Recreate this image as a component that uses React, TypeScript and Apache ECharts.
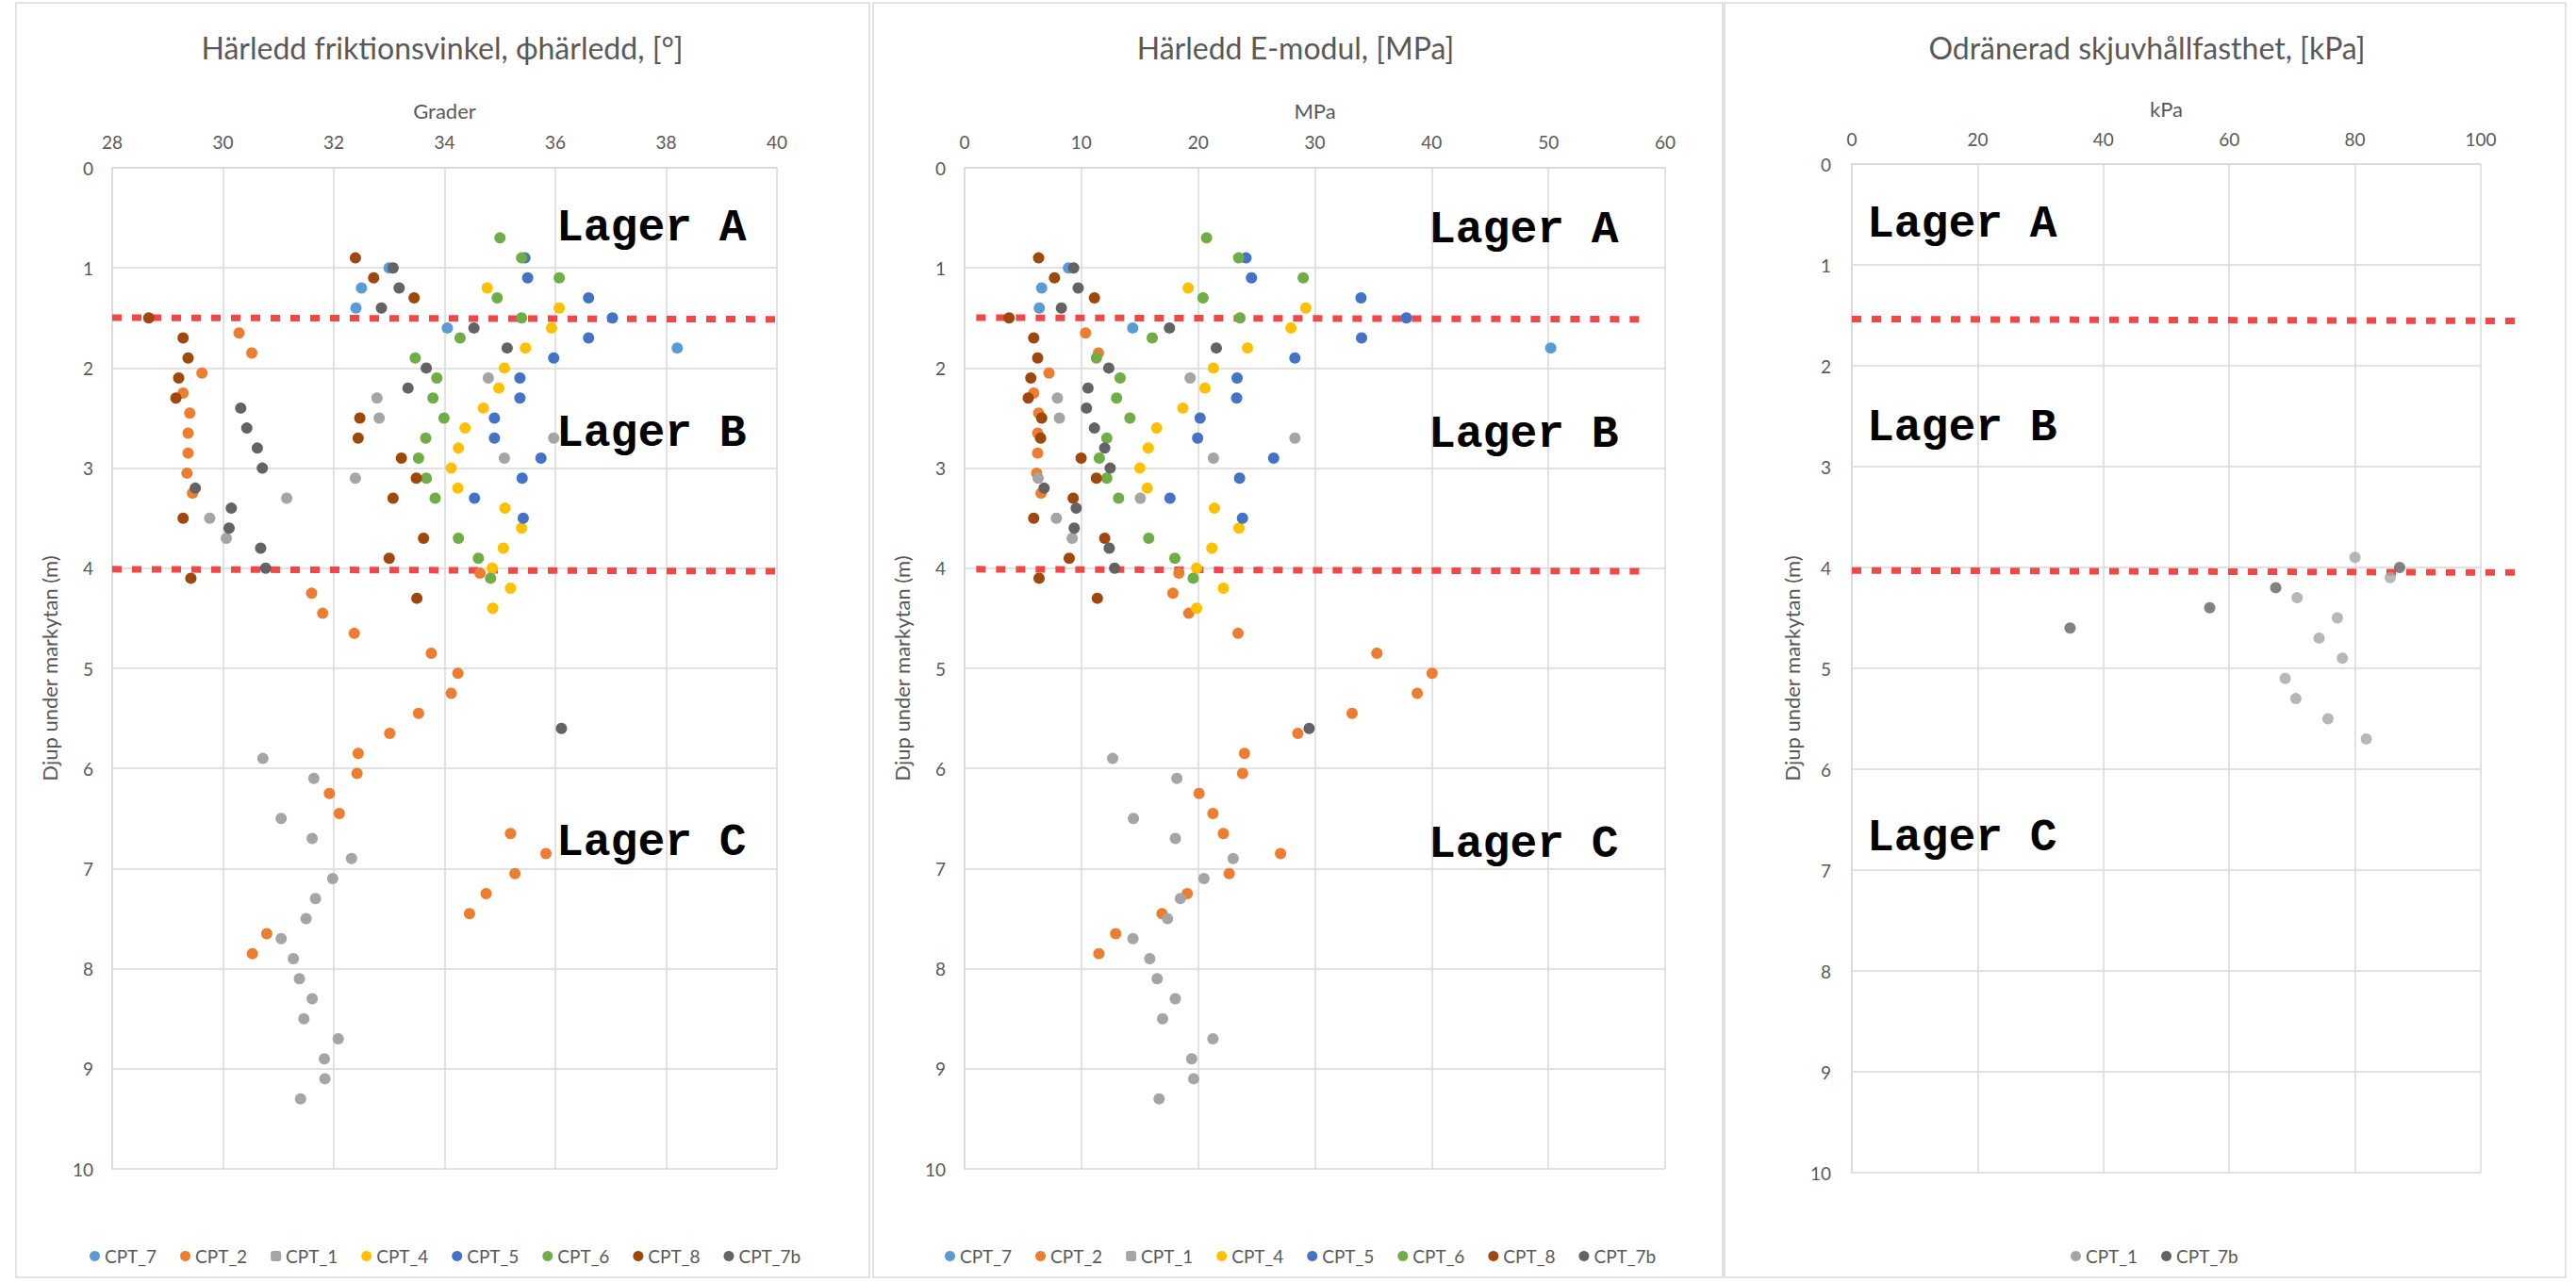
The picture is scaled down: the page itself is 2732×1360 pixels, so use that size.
import React, { useEffect, useRef } from "react";
import * as echarts from "echarts";

const FONT = "Lato, 'Open Sans', sans-serif";
const MONO = "'Liberation Mono', 'DejaVu Sans Mono', monospace";
const TXT = "#595959";
const GRIDC = "#d9d9d9";
const BOUNDARY_COLOR = "#f04848";

// ---------- series meta ----------
const seriesNames = ["CPT_7", "CPT_2", "CPT_1", "CPT_4", "CPT_5", "CPT_6", "CPT_8", "CPT_7b"];
const seriesColors = ["#5B9BD5", "#ED7D31", "#A5A5A5", "#FFC000", "#4472C4", "#70AD47", "#9E480E", "#636363"];

// ---------- depths (m) ----------
const depthCPT7 = [1.0, 1.2, 1.4, 1.6, 1.8];
const depthCPT2 = [1.65, 1.85, 2.05, 2.25, 2.45, 2.65, 2.85, 3.05, 3.25, 4.05, 4.25, 4.45, 4.65, 4.85, 5.05, 5.25, 5.45, 5.65, 5.85, 6.05, 6.25, 6.45, 6.65, 6.85, 7.05, 7.25, 7.45, 7.65, 7.85];
const depthCPT1 = [2.1, 2.3, 2.5, 2.7, 2.9, 3.1, 3.3, 3.5, 3.7, 5.9, 6.1, 6.5, 6.7, 6.9, 7.1, 7.3, 7.5, 7.7, 7.9, 8.1, 8.3, 8.5, 8.7, 8.9, 9.1, 9.3];
const depthCPT4 = [1.2, 1.4, 1.6, 1.8, 2.0, 2.2, 2.4, 2.6, 2.8, 3.0, 3.2, 3.4, 3.6, 3.8, 4.0, 4.2, 4.4];
const depthCPT5 = [0.9, 1.1, 1.3, 1.5, 1.7, 1.9, 2.1, 2.3, 2.5, 2.7, 2.9, 3.1, 3.3, 3.5];
const depthCPT6 = [0.7, 0.9, 1.1, 1.3, 1.5, 1.7, 1.9, 2.1, 2.3, 2.5, 2.7, 2.9, 3.1, 3.3, 3.7, 3.9, 4.1];
const depthCPT8 = [0.9, 1.1, 1.3, 1.5, 1.7, 1.9, 2.1, 2.3, 2.5, 2.7, 2.9, 3.1, 3.3, 3.5, 3.7, 3.9, 4.1, 4.3];
const depthCPT7b = [1.0, 1.2, 1.4, 1.6, 1.8, 2.0, 2.2, 2.4, 2.6, 2.8, 3.0, 3.2, 3.4, 3.6, 3.8, 4.0, 5.6];

// ---------- friction angle (degrees) ----------
const phiCPT7 = [33.0, 32.5, 32.4, 34.05, 38.2];
const phiCPT2 = [30.29, 30.52, 29.62, 29.28, 29.4, 29.37, 29.37, 29.35, 29.45, 34.64, 31.6, 31.8, 32.37, 33.76, 34.24, 34.12, 33.53, 33.01, 32.44, 32.42, 31.92, 32.1, 35.19, 35.83, 35.27, 34.75, 34.45, 30.79, 30.53];
const phiCPT1 = [34.79, 32.78, 32.82, 35.97, 35.08, 32.39, 31.15, 29.76, 30.06, 30.72, 31.64, 31.05, 31.61, 32.32, 31.98, 31.67, 31.5, 31.05, 31.27, 31.38, 31.61, 31.46, 32.08, 31.83, 31.84, 31.4];
const phiCPT4 = [34.77, 36.07, 35.93, 35.46, 35.08, 34.98, 34.7, 34.37, 34.25, 34.12, 34.24, 35.09, 35.39, 35.06, 34.86, 35.19, 34.87];
const phiCPT5 = [35.45, 35.5, 36.6, 37.03, 36.6, 35.97, 35.36, 35.36, 34.9, 34.9, 35.74, 35.4, 34.54, 35.42];
const phiCPT6 = [35.0, 35.39, 36.07, 34.95, 35.39, 34.28, 33.47, 33.86, 33.79, 33.99, 33.66, 33.53, 33.67, 33.83, 34.25, 34.61, 34.83];
const phiCPT8 = [32.39, 32.72, 33.45, 28.66, 29.28, 29.37, 29.2, 29.15, 32.47, 32.44, 33.22, 33.49, 33.07, 29.28, 33.62, 33.0, 29.42, 33.5];
const phiCPT7b = [33.07, 33.18, 32.86, 34.53, 35.13, 33.67, 33.34, 30.32, 30.43, 30.62, 30.71, 29.5, 30.15, 30.11, 30.68, 30.77, 36.11];

// ---------- E-modulus (MPa) ----------
const eCPT7 = [8.9, 6.6, 6.4, 14.4, 50.2];
const eCPT2 = [10.36, 11.46, 7.23, 5.92, 6.34, 6.26, 6.26, 6.17, 6.55, 18.35, 17.84, 19.2, 23.42, 35.31, 40.04, 38.77, 33.19, 28.54, 23.97, 23.81, 20.08, 21.27, 22.16, 27.06, 22.66, 19.07, 16.91, 12.94, 11.5];
const eCPT1 = [19.32, 7.95, 8.12, 28.29, 21.31, 6.3, 15.05, 7.86, 9.22, 12.68, 18.18, 14.46, 18.05, 23.0, 20.5, 18.48, 17.38, 14.42, 15.86, 16.49, 18.05, 16.96, 21.27, 19.45, 19.62, 16.66];
const eCPT4 = [19.15, 29.22, 27.95, 24.23, 21.31, 20.59, 18.69, 16.45, 15.73, 15.01, 15.64, 21.4, 23.5, 21.18, 19.87, 22.16, 19.87];
const eCPT5 = [24.1, 24.57, 33.95, 37.84, 34.0, 28.29, 23.34, 23.3, 20.17, 19.96, 26.47, 23.55, 17.59, 23.8];
const eCPT6 = [20.72, 23.47, 29.0, 20.42, 23.59, 16.07, 11.29, 13.32, 13.02, 14.16, 12.18, 11.54, 12.18, 13.19, 15.77, 18.01, 19.58];
const eCPT8 = [6.34, 7.7, 11.12, 3.81, 5.92, 6.26, 5.67, 5.45, 6.6, 6.51, 9.98, 11.29, 9.3, 5.92, 12.0, 8.96, 6.38, 11.37];
const eCPT7b = [9.34, 9.73, 8.29, 17.55, 21.56, 12.35, 10.57, 10.44, 11.12, 12.0, 12.47, 6.81, 9.56, 9.39, 12.39, 12.85, 29.51];

// ---------- undrained shear strength (kPa) ----------
const cuDepthCPT1 = [3.9, 4.1, 4.3, 4.5, 4.7, 4.9, 5.1, 5.3, 5.5, 5.7];
const cuCPT1 = [80.0, 85.6, 70.8, 77.2, 74.3, 78.0, 68.9, 70.6, 75.7, 81.8];
const cuDepthCPT7b = [4.0, 4.2, 4.4, 4.6];
const cuCPT7b = [87.1, 67.4, 56.9, 34.7];

// ---------- axes / labels ----------
const panelTitles = ["Härledd friktionsvinkel, ϕhärledd, [°]", "Härledd E-modul, [MPa]", "Odränerad skjuvhållfasthet, [kPa]"];
const xAxisNames = ["Grader", "MPa", "kPa"];
const xMins = [28, 0, 0];
const xMaxs = [40, 60, 100];
const xIntervals = [2, 10, 20];
const depthMin = 0;
const depthMax = 10;
const depthInterval = 1;
const yAxisName = "Djup under markytan (m)";
const layerNames = ["Lager A", "Lager B", "Lager C"];

// layer boundary lines per panel: [xStart, depthStart, xEnd, depthEnd]
const boundaryLines = [
  [[28, 1.497, 40, 1.513], [28, 4.01, 40, 4.03]],
  [[1.0, 1.497, 57.8, 1.513], [1.0, 4.01, 57.8, 4.03]],
  [[0, 1.537, 106, 1.556], [0, 4.03, 105.5, 4.05]],
];

const pairs = (xs: number[], ds: number[]) => xs.map((x, i) => [x, ds[i]]);

const panel1Values = [phiCPT7, phiCPT2, phiCPT1, phiCPT4, phiCPT5, phiCPT6, phiCPT8, phiCPT7b];
const panel2Values = [eCPT7, eCPT2, eCPT1, eCPT4, eCPT5, eCPT6, eCPT8, eCPT7b];
const panelDepths = [depthCPT7, depthCPT2, depthCPT1, depthCPT4, depthCPT5, depthCPT6, depthCPT8, depthCPT7b];

// layout (pixels)
const grids = [
  { left: 119, top: 178, width: 705, height: 1062 },
  { left: 1023, top: 178, width: 743, height: 1062 },
  { left: 1964, top: 174, width: 667, height: 1070 },
];
const boxes = [
  { x: 17, y: 3, w: 905, h: 1352 },
  { x: 926, y: 3, w: 901, h: 1352 },
  { x: 1829, y: 3, w: 892, h: 1352 },
];
const titleCenters = [469, 1374, 2277];
const lagerPos = [
  { x: 590, ys: [242, 460, 894] },
  { x: 1515, ys: [244, 461, 896] },
  { x: 1980, ys: [238, 454, 889] },
];

export default function App() {
  const ref = useRef<HTMLDivElement>(null);
  useEffect(() => {
    if (!ref.current) return;
    const chart = echarts.init(ref.current, undefined, { renderer: "svg" });

    const xAxes = [0, 1, 2].map((i) => ({
      type: "value",
      gridIndex: i,
      position: "top",
      min: xMins[i],
      max: xMaxs[i],
      interval: xIntervals[i],
      name: xAxisNames[i],
      nameLocation: "middle",
      nameGap: i === 2 ? 48 : 50,
      nameTextStyle: { fontSize: 22, color: TXT, fontFamily: FONT },
      axisLabel: { margin: i === 2 ? 17 : 18, fontSize: 19, color: TXT, fontFamily: FONT },
      axisLine: { show: true, lineStyle: { color: GRIDC, width: 1.5 } },
      axisTick: { show: false },
      splitLine: { show: true, lineStyle: { color: GRIDC, width: 1.5 } },
    }));
    const yAxes = [0, 1, 2].map((i) => ({
      type: "value",
      gridIndex: i,
      inverse: true,
      min: depthMin,
      max: depthMax,
      interval: depthInterval,
      name: yAxisName,
      nameLocation: "middle",
      nameGap: i === 2 ? 53 : 56,
      nameTextStyle: { fontSize: 22, color: TXT, fontFamily: FONT },
      axisLabel: { margin: i === 2 ? 22 : 20, fontSize: 19, color: TXT, fontFamily: FONT },
      axisLine: { show: true, lineStyle: { color: GRIDC, width: 1.5 } },
      axisTick: { show: false },
      splitLine: { show: true, lineStyle: { color: GRIDC, width: 1.5 } },
    }));

    const series: any[] = [];
    [panel1Values, panel2Values].forEach((vals, p) => {
      seriesNames.forEach((name, k) => {
        series.push({
          type: "scatter",
          name,
          xAxisIndex: p,
          yAxisIndex: p,
          symbol: "circle",
          symbolSize: 12,
          itemStyle: { color: seriesColors[k], opacity: 1 },
          data: pairs(vals[k], panelDepths[k]),
        });
      });
    });
    series.push({
      type: "scatter",
      name: "CPT_1",
      xAxisIndex: 2,
      yAxisIndex: 2,
      symbol: "circle",
      symbolSize: 12,
      itemStyle: { color: seriesColors[2] },
      data: pairs(cuCPT1, cuDepthCPT1),
    });
    series.push({
      type: "scatter",
      name: "CPT_7b",
      xAxisIndex: 2,
      yAxisIndex: 2,
      symbol: "circle",
      symbolSize: 12,
      itemStyle: { color: seriesColors[7] },
      data: pairs(cuCPT7b, cuDepthCPT7b),
    });

    const legendText = { fontSize: 19, color: TXT, fontFamily: FONT };
    const legendData12 = seriesNames.map((n) => ({ name: n, icon: n === "CPT_1" ? "roundRect" : "circle" }));
    const legends = [
      { data: legendData12, left: 90, top: 1318, itemWidth: 11, itemHeight: 11, itemGap: 25, textStyle: legendText, selectedMode: false },
      { data: legendData12, left: 997, top: 1318, itemWidth: 11, itemHeight: 11, itemGap: 25, textStyle: legendText, selectedMode: false },
      { data: [{ name: "CPT_1", icon: "circle" }, { name: "CPT_7b", icon: "circle" }], left: 2191, top: 1318, itemWidth: 11, itemHeight: 11, itemGap: 25, textStyle: legendText, selectedMode: false },
    ];

    chart.setOption({
      animation: false,
      backgroundColor: "#ffffff",
      grid: grids.map((g) => ({ ...g, containLabel: false })),
      xAxis: xAxes,
      yAxis: yAxes,
      legend: legends,
      series,
    });

    const graphics: any[] = [];
    boxes.forEach((b, i) => {
      graphics.push({
        type: "rect",
        id: "box" + i,
        z: -10,
        shape: { x: b.x, y: b.y, width: b.w, height: b.h },
        style: { fill: "none", stroke: GRIDC, lineWidth: 1.5 },
        silent: true,
      });
    });
    panelTitles.forEach((t, i) => {
      graphics.push({
        type: "text",
        id: "title" + i,
        x: titleCenters[i],
        y: 50,
        style: { text: t, fill: TXT, fontSize: 32, fontFamily: FONT, align: "center", verticalAlign: "middle" },
      });
    });
    lagerPos.forEach((lp, i) => {
      layerNames.forEach((ln, j) => {
        graphics.push({
          type: "text",
          id: "lager" + i + "_" + j,
          x: lp.x,
          y: lp.ys[j],
          z: 20,
          style: { text: ln, fill: "#000000", fontSize: 48, fontWeight: "bold", fontFamily: MONO, align: "left", verticalAlign: "middle" },
        });
      });
    });
    boundaryLines.forEach((lines, p) => {
      lines.forEach((ln, j) => {
        const a = chart.convertToPixel({ gridIndex: p } as any, [ln[0], ln[1]]) as number[];
        const b = chart.convertToPixel({ gridIndex: p } as any, [ln[2], ln[3]]) as number[];
        graphics.push({
          type: "line",
          id: "bound" + p + "_" + j,
          z: 1,
          shape: { x1: a[0], y1: a[1], x2: b[0], y2: b[1] },
          style: { stroke: BOUNDARY_COLOR, lineWidth: 7, lineDash: [10, 11] },
          silent: true,
        });
      });
    });
    chart.setOption({ graphic: graphics });

    return () => chart.dispose();
  }, []);

  return (
    <div
      ref={ref}
      style={{ position: "fixed", left: 0, top: 0, width: 2732, height: 1360, background: "#ffffff" }}
    />
  );
}
